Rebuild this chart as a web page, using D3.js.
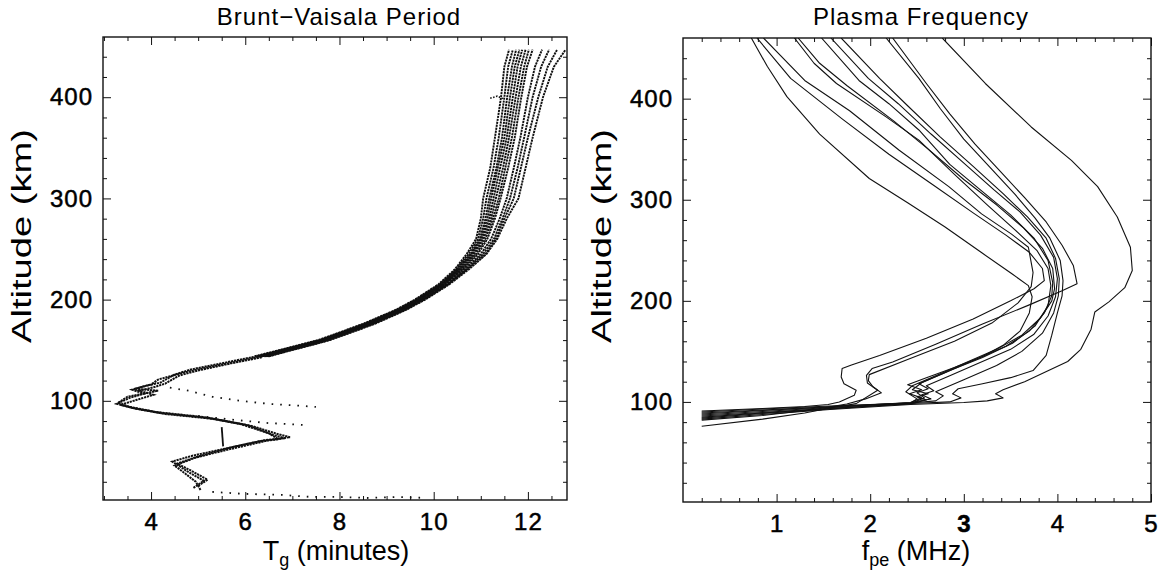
<!DOCTYPE html>
<html>
<head>
<meta charset="utf-8">
<script src="https://cdn.jsdelivr.net/npm/d3@7"></script>
<style>
  body { margin: 0; background: #fff; }
  svg { display: block; font-family: "Liberation Sans", Arial, Helvetica, sans-serif; }
</style>
</head>
<body>
<div id="chart"></div>
<script>
// ---- Brunt-Vaisala period (left panel) ----
const bvTicks = [4, 6, 8, 10, 12];
const altTicks = [100, 200, 300, 400];

// altitudes (km) for the upper strands, and T (minutes) of each strand there
const bvAlt = [144, 160, 176, 190, 200, 215, 230, 245, 260, 280, 300, 330, 360, 400, 430, 447];
const bvUpperT = [
  [6.20, 7.55, 8.50, 9.20, 9.60, 10.10, 10.45, 10.70, 10.90, 11.00, 11.05, 11.20, 11.30, 11.43, 11.50, 11.60],
  [6.25, 7.58, 8.52, 9.22, 9.62, 10.12, 10.48, 10.74, 10.94, 11.05, 11.12, 11.27, 11.38, 11.50, 11.58, 11.68],
  [6.28, 7.60, 8.55, 9.24, 9.65, 10.15, 10.50, 10.78, 10.98, 11.10, 11.18, 11.33, 11.45, 11.56, 11.66, 11.75],
  [6.30, 7.62, 8.56, 9.26, 9.66, 10.16, 10.53, 10.80, 11.00, 11.14, 11.22, 11.36, 11.50, 11.62, 11.72, 11.82],
  [6.32, 7.64, 8.58, 9.28, 9.68, 10.18, 10.55, 10.83, 11.03, 11.18, 11.27, 11.41, 11.55, 11.68, 11.78, 11.88],
  [6.34, 7.66, 8.60, 9.30, 9.70, 10.20, 10.58, 10.86, 11.06, 11.22, 11.32, 11.47, 11.60, 11.74, 11.85, 11.95],
  [6.36, 7.68, 8.62, 9.31, 9.72, 10.22, 10.60, 10.90, 11.10, 11.26, 11.38, 11.52, 11.66, 11.80, 11.92, 12.02],
  [6.40, 7.70, 8.64, 9.33, 9.74, 10.24, 10.63, 10.94, 11.14, 11.30, 11.42, 11.58, 11.72, 11.86, 11.98, 12.10],
  [6.42, 7.72, 8.66, 9.35, 9.76, 10.27, 10.67, 11.00, 11.22, 11.40, 11.55, 11.70, 11.84, 12.00, 12.15, 12.30],
  [6.45, 7.75, 8.70, 9.38, 9.78, 10.30, 10.70, 11.05, 11.28, 11.46, 11.62, 11.78, 11.92, 12.10, 12.28, 12.45],
  [6.48, 7.78, 8.72, 9.40, 9.80, 10.30, 10.72, 11.10, 11.32, 11.50, 11.70, 11.85, 12.00, 12.22, 12.42, 12.62],
  [6.50, 7.80, 8.75, 9.42, 9.82, 10.33, 10.75, 11.12, 11.35, 11.55, 11.80, 11.95, 12.10, 12.32, 12.55, 12.80]
];

// lower atmosphere strands [T, altitude]
const bvLower = [
  [[4.9,14],[5.12,21],[4.78,30],[4.45,40],[4.9,46],[5.6,53],[6.3,60],[6.85,63],[6.6,66],[6.05,76],[5.25,83],[4.2,88],[3.6,93],[3.27,97],[3.55,103],[3.85,107],[3.6,111],[3.9,115],[4.2,118],[4.5,126],[4.85,131],[5.6,138],[6.24,144]],
  [[5.0,16],[5.2,22],[4.85,31],[4.55,38],[5.0,45],[5.7,54],[6.4,61],[6.95,64],[6.7,67],[6.15,75],[5.35,82],[4.3,87],[3.7,92],[3.35,96],[3.7,101],[4.05,106],[3.75,110],[4.1,114],[4.3,117],[4.6,125],[5.0,130],[5.7,137],[6.35,143]],
  [[5.05,12],[4.95,20],[4.7,29],[4.5,36],[4.95,44],[5.65,52],[6.5,61],[6.7,62],[6.5,68],[5.9,77],[5.1,84],[4.1,89],[3.55,94],[3.3,98],[3.5,104],[4.15,110],[3.65,112],[4.0,116],[4.15,121],[4.7,128],[5.3,134],[5.95,140],[6.45,145]]
];
const bvStep = [[5.53,55],[5.5,74]];
const bvSpur = [[11.2,399],[11.35,401],[11.5,398]];
// sparse scattered points
const bvScatter = [
  [[4.4,113],[4.8,110],[5.3,104],[5.9,100],[6.5,97],[7.2,95],[7.5,94]],
  [[5.0,85],[5.8,81],[6.5,78],[7.3,76]],
  [[5.3,10],[6.0,8],[6.8,7],[7.4,5],[8.0,5],[8.6,4],[9.2,5],[9.85,4]]
];

// ---- Plasma frequency (right panel), [fpe MHz, altitude km] ----
const pfTicks = [1, 2, 3, 4, 5];
const pfCurves = [
  // rightmost profile
  [[0.2,83],[0.85,87.5],[1.57,92.5],[2.43,97.5],[3.0,99.5],[3.25,101],[3.42,104],[3.34,108],[3.42,112],[3.65,120],[3.86,129],[4.11,140],[4.25,152],[4.36,172],[4.4,189],[4.55,199],[4.72,213],[4.8,230],[4.78,253],[4.64,283],[4.43,313],[4.15,339],[3.72,372],[3.23,415],[2.77,460]],
  [[0.2,76],[0.85,83],[1.3,89],[1.6,94.5],[1.85,98.3],[2.08,111.5],[1.97,118.7],[1.96,126.3],[2.02,133],[2.24,139.5],[2.7,157],[3.2,177],[3.7,196],[4.05,210],[4.21,217],[4.17,235],[4.05,255],[3.88,278],[3.65,302],[3.4,327],[3.12,355],[2.85,385],[2.6,415],[2.24,460]],
  [[0.2,85],[0.85,89],[1.57,93.5],[2.43,98.5],[2.85,100],[2.97,104],[2.88,108],[2.94,113],[3.2,118],[3.5,124],[3.74,131],[3.88,146],[3.94,166],[4.0,188],[4.05,205],[4.06,220],[4.03,240],[3.92,262],[3.76,282],[3.55,305],[3.3,330],[3.0,360],[2.75,390],[2.52,420],[2.17,460]],
  [[0.2,87],[0.85,90.5],[1.57,94.5],[2.43,99],[2.7,101],[2.78,106],[2.7,110],[2.8,114],[3.0,122],[3.35,136],[3.62,150],[3.84,168],[3.96,188],[4.01,205],[4.02,222],[3.98,242],[3.88,262],[3.68,283],[3.42,306],[3.1,333],[2.75,362],[2.4,393],[2.1,420],[1.69,460]],
  [[0.2,89],[0.85,92],[1.57,95.2],[2.43,99.2],[2.65,103],[2.55,107],[2.68,111],[2.6,116],[2.85,126],[3.15,138],[3.5,152],[3.75,167],[3.9,185],[3.98,204],[4.0,222],[3.96,243],[3.82,265],[3.6,288],[3.32,310],[2.98,338],[2.65,365],[2.3,395],[1.98,420],[1.58,460]],
  [[0.2,84],[0.85,88.5],[1.57,93],[2.43,98.5],[2.58,104],[2.5,109],[2.62,113],[2.52,118],[2.78,128],[3.1,141],[3.45,155],[3.7,170],[3.86,188],[3.94,205],[3.95,218],[3.9,240],[3.75,262],[3.5,285],[3.2,308],[2.85,335],[2.52,369],[2.2,395],[1.88,418],[1.48,460]],
  [[0.2,90],[0.85,93],[1.57,96],[2.43,99],[2.5,103],[2.38,110],[2.45,116],[2.7,126],[3.0,138],[3.35,152],[3.62,166],[3.82,183],[3.94,200],[3.97,212],[3.95,232],[3.84,252],[3.64,272],[3.35,295],[3.0,320],[2.62,350],[2.25,378],[1.75,413],[1.46,435],[1.23,460]],
  [[0.2,86],[0.85,89.5],[1.57,93.8],[2.43,98],[2.6,102],[2.5,105],[2.62,108],[2.45,112],[2.55,119],[2.85,131],[3.2,144],[3.52,158],[3.76,175],[3.9,195],[3.93,215],[3.9,232],[3.78,250],[3.55,270],[3.25,295],[2.9,325],[2.52,359],[2.17,382],[1.64,415],[1.4,435],[1.19,460]],
  [[0.2,88],[0.85,91.5],[1.57,95],[2.43,99.5],[2.55,104],[2.42,108],[2.55,112],[2.4,117],[2.6,124],[2.9,134],[3.2,145],[3.42,156],[3.6,170],[3.7,188],[3.73,204],[3.69,215],[3.51,227],[3.2,247],[2.8,273],[2.4,297],[1.99,321],[1.46,365],[1.11,402],[0.9,432],[0.73,460]],
  [[0.2,91],[0.85,93.5],[1.3,95.5],[1.55,97.5],[1.67,100],[1.83,106.5],[1.85,111.5],[1.72,118],[1.69,124.7],[1.7,133],[1.8,136.5],[2.1,146],[2.6,163],[3.1,182],[3.5,200],[3.75,212],[3.86,220],[3.84,232],[3.7,248],[3.45,265],[3.1,287],[2.65,316],[2.2,345],[1.7,380],[1.15,420],[0.79,460]],
  [[0.2,82],[0.85,86.5],[1.4,92.5],[1.75,98],[1.95,103],[2.12,109],[2.03,115],[1.98,121],[1.99,127],[2.4,142],[2.9,160],[3.3,178],[3.58,198],[3.72,214],[3.74,228],[3.69,253],[3.51,266],[3.19,286],[2.84,313],[2.31,349],[1.78,388],[1.3,418],[0.86,460]]
];

let svg = d3.select("#chart").append("svg")
  .attr("width", 1159)
  .attr("height", 582);

let fontFamily = '"Liberation Sans", Arial, Helvetica, sans-serif';

// frame, ticks and labels of one panel
function drawPanel(o) {
  let g = svg.append("g");
  let x = o.x, y = o.y;
  let [x0, x1] = x.range();
  let [y1, y0] = y.range();

  let minorX = o.xMinor.filter(v => o.xMajor.indexOf(v) < 0);
  let minorY = d3.range(20, 460, 20).filter(v => altTicks.indexOf(v) < 0);

  // minor ticks on all four sides
  g.append("g").attr("transform", `translate(0,${y1})`)
    .call(d3.axisBottom(x).tickValues(minorX).tickSize(-4).tickFormat(""));
  g.append("g").attr("transform", `translate(0,${y0})`)
    .call(d3.axisTop(x).tickValues(minorX).tickSize(-4).tickFormat(""));
  g.append("g").attr("transform", `translate(${x0},0)`)
    .call(d3.axisLeft(y).tickValues(minorY).tickSize(-4).tickFormat(""));
  g.append("g").attr("transform", `translate(${x1},0)`)
    .call(d3.axisRight(y).tickValues(minorY).tickSize(-4).tickFormat(""));

  // major ticks
  let bottom = g.append("g").attr("class", "lab").attr("transform", `translate(0,${y1})`)
    .call(d3.axisBottom(x).tickValues(o.xMajor).tickSize(-8).tickPadding(13).tickFormat(d3.format("d")));
  g.append("g").attr("transform", `translate(0,${y0})`)
    .call(d3.axisTop(x).tickValues(o.xMajor).tickSize(-8).tickFormat(""));
  g.append("g").attr("class", "lab").attr("transform", `translate(${x0},0)`)
    .call(d3.axisLeft(y).tickValues(altTicks).tickSize(-8).tickPadding(10).tickFormat(d3.format("d")));
  g.append("g").attr("transform", `translate(${x1},0)`)
    .call(d3.axisRight(y).tickValues(altTicks).tickSize(-8).tickFormat(""));

  g.selectAll(".domain").remove();
  g.selectAll(".tick line").attr("stroke", "#111").attr("stroke-width", 1);
  g.selectAll(".lab text")
    .attr("font-family", fontFamily)
    .attr("font-size", 24)
    .attr("fill", "#000")
    .attr("stroke", "#000")
    .attr("stroke-width", 0.5)
    .style("letter-spacing", "1px");
  if (o.boldTick !== undefined) {
    bottom.selectAll("text").filter(d => d === o.boldTick).attr("font-weight", "bold");
  }

  g.append("rect")
    .attr("x", x0).attr("y", y0)
    .attr("width", x1 - x0).attr("height", y1 - y0)
    .attr("fill", "none").attr("stroke", "#111").attr("stroke-width", 1.4);

  svg.append("clipPath").attr("id", o.id)
    .append("rect")
    .attr("x", x0).attr("y", y0)
    .attr("width", x1 - x0).attr("height", y1 - y0);

  // title
  svg.append("text")
    .attr("x", o.titleX).attr("y", 25)
    .attr("text-anchor", "middle")
    .attr("font-size", 24)
    .style("letter-spacing", "1px")
    .text(o.title);

  // y label
  svg.append("text")
    .attr("transform", `translate(${o.yLabelX},236) rotate(-90)`)
    .attr("text-anchor", "middle")
    .attr("font-size", 27)
    .attr("textLength", 214)
    .attr("lengthAdjust", "spacingAndGlyphs")
    .text("Altitude (km)");

  // x label with subscript
  let xl = svg.append("text")
    .attr("x", o.xLabelX).attr("y", 560)
    .attr("text-anchor", "middle")
    .attr("font-size", 27);
  xl.append("tspan").text(o.xMain);
  xl.append("tspan").attr("font-size", 18).attr("dy", 6).text(o.xSub);
  xl.append("tspan").attr("dy", -6).text(" " + o.xRest);

  return g;
}

// ---- left panel ----
let xBV = d3.scaleLinear().domain([2.98, 12.83]).range([103, 567]);
let yBV = d3.scaleLinear().domain([2, 459.5]).range([500, 37]);

drawPanel({
  id: "clipBV", x: xBV, y: yBV,
  xMajor: bvTicks, xMinor: d3.range(3, 13, 0.5),
  title: "Brunt\u2212Vaisala Period", titleX: 339,
  yLabelX: 31, xLabelX: 336,
  xMain: "T", xSub: "g", xRest: "(minutes)"
});

let lineBV = d3.line().x(d => xBV(d[0])).y(d => yBV(d[1]));
let bvPlot = svg.append("g").attr("clip-path", "url(#clipBV)");

let upperStrands = bvUpperT.map(row => row.map((t, i) => [t, bvAlt[i]]));

bvPlot.selectAll("path.upper")
  .data(upperStrands)
  .enter().append("path")
  .attr("class", "upper")
  .attr("d", lineBV)
  .attr("fill", "none")
  .attr("stroke", "#111")
  .attr("stroke-width", 1.9)
  .attr("stroke-dasharray", "2.2 0.8");

bvPlot.selectAll("path.lower")
  .data(bvLower)
  .enter().append("path")
  .attr("class", "lower")
  .attr("d", lineBV)
  .attr("fill", "none")
  .attr("stroke", "#111")
  .attr("stroke-width", 2)
  .attr("stroke-dasharray", "2.2 0.8");

bvPlot.append("path")
  .attr("d", lineBV(bvStep))
  .attr("fill", "none").attr("stroke", "#111").attr("stroke-width", 1.8);

bvPlot.append("path")
  .attr("d", lineBV(bvSpur))
  .attr("fill", "none").attr("stroke", "#111").attr("stroke-width", 1.6)
  .attr("stroke-dasharray", "1.5 1.5");

bvPlot.selectAll("path.scatter")
  .data(bvScatter)
  .enter().append("path")
  .attr("class", "scatter")
  .attr("d", lineBV)
  .attr("fill", "none")
  .attr("stroke", "#111")
  .attr("stroke-width", 1.8)
  .attr("stroke-dasharray", "1.6 7");

// ---- right panel ----
let xPF = d3.scaleLinear().domain([0, 5]).range([683, 1151]);
let yPF = d3.scaleLinear().domain([1, 460]).range([502, 38]);

drawPanel({
  id: "clipPF", x: xPF, y: yPF,
  xMajor: pfTicks, xMinor: d3.range(0.2, 5, 0.2).map(v => Math.round(v * 10) / 10),
  boldTick: 3,
  title: "Plasma Frequency", titleX: 921,
  yLabelX: 611, xLabelX: 916,
  xMain: "f", xSub: "pe", xRest: "(MHz)"
});

let linePF = d3.line().x(d => xPF(d[0])).y(d => yPF(d[1]));

svg.append("g").attr("clip-path", "url(#clipPF)")
  .selectAll("path")
  .data(pfCurves)
  .enter().append("path")
  .attr("d", linePF)
  .attr("fill", "none")
  .attr("stroke", "#111")
  .attr("stroke-width", 1.1)
  .attr("stroke-linejoin", "round");
</script>
</body>
</html>
